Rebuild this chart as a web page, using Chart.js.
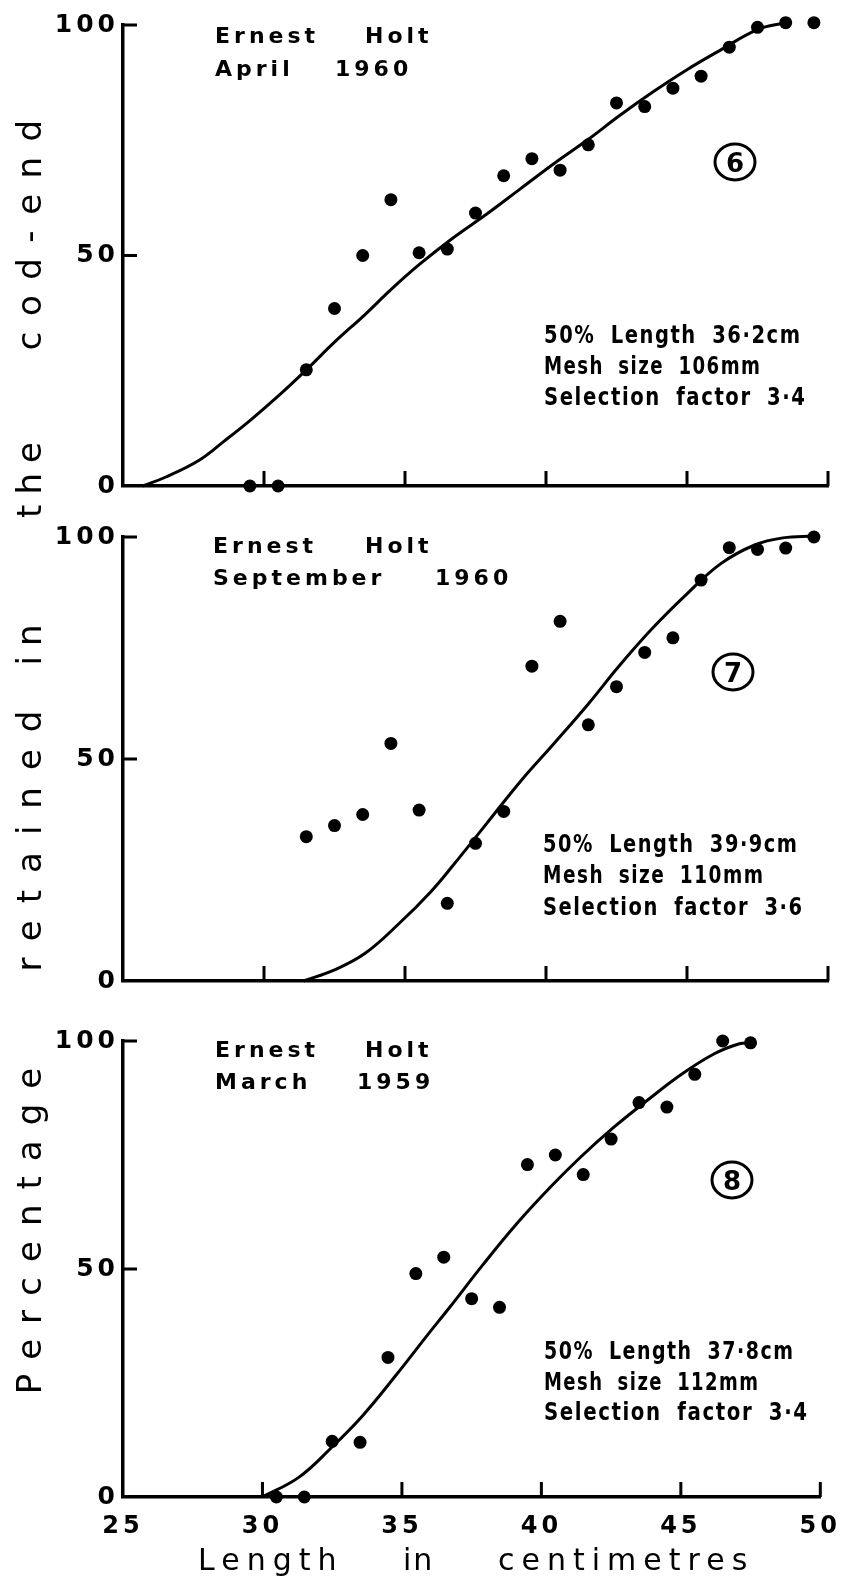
<!DOCTYPE html>
<html>
<head>
<meta charset="utf-8">
<script src="https://cdn.jsdelivr.net/npm/chart.js@4.4.1/dist/chart.umd.min.js"></script>
<style>
  html, body { margin: 0; padding: 0; background: #fff; }
  #page { position: relative; width: 852px; height: 1581px; overflow: hidden; background: #fff; }
  canvas { position: absolute; left: 0; }
  .ytitle {
    position: absolute; width: 400px; height: 34px; line-height: 34px;
    font: 34px "DejaVu Sans", sans-serif; color: #000; text-align: center;
    white-space: nowrap; transform: rotate(-90deg);
  }
</style>
</head>
<body>
<div id="page">
  <canvas id="panel6" width="852" height="505" style="top:0px"></canvas>
  <canvas id="panel7" width="852" height="495" style="top:505px"></canvas>
  <canvas id="panel8" width="852" height="581" style="top:1000px"></canvas>
</div>
<script>
// --- axis ticks ---
const X_TICKS = [25, 30, 35, 40, 45, 50];
const Y_TICKS = [0, 50, 100];

// --- Ernest Holt, April 1960 (panel 6) ---
const LENGTH_6 = [29.5, 30.5, 31.5, 32.5, 33.5, 34.5, 35.5, 36.5, 37.5, 38.5, 39.5,
                  40.5, 41.5, 42.5, 43.5, 44.5, 45.5, 46.5, 47.5, 48.5, 49.5];
const RETAINED_6 = [0, 0, 25.2, 38.5, 50, 62.1, 50.6, 51.4, 59.2, 67.3, 71,
                    68.5, 74, 83.1, 82.3, 86.3, 88.9, 95.2, 99.5, 100.5, 100.5];
const CURVE_X_6 = [25.7, 26.5, 27.7, 28.6, 29.5, 30.5, 31.5, 32.5, 33.6, 34.5, 35.5,
                   36.7, 37.9, 39.1, 40.3, 41.5, 42.6, 43.8, 45.0, 46.2, 47.5, 48.5];
const CURVE_Y_6 = [0, 1.9, 5.6, 9.8, 14.2, 19.5, 25.2, 31.2, 37.3, 42.6, 48,
                   53.8, 59, 64.5, 70, 75.2, 80.3, 85.5, 90.3, 94.6, 99, 100.5];

// --- Ernest Holt, September 1960 (panel 7) ---
const LENGTH_7 = [31.5, 32.5, 33.5, 34.5, 35.5, 36.5, 37.5, 38.5, 39.5, 40.5,
                  41.5, 42.5, 43.5, 44.5, 45.5, 46.5, 47.5, 48.5, 49.5];
const RETAINED_7 = [32.5, 35, 37.5, 53.5, 38.5, 17.5, 31, 38.2, 70.9, 81,
                    57.7, 66.3, 74, 77.3, 90.3, 97.6, 97.2, 97.5, 100];
const CURVE_X_7 = [31.4, 32.5, 33.6, 34.8, 35.9, 36.7, 37.9, 39.1, 40.3,
                   41.5, 42.6, 43.8, 45.0, 46.2, 47.4, 48.4, 49.5];
const CURVE_Y_7 = [0, 2.5, 6.3, 13, 20, 26, 35.5, 45, 53.6,
                   62.4, 71, 79.6, 87.2, 94, 98.2, 99.8, 100.2];

// --- Ernest Holt, March 1959 (panel 8) ---
const LENGTH_8 = [30.5, 31.5, 32.5, 33.5, 34.5, 35.5, 36.5, 37.5, 38.5,
                  39.5, 40.5, 41.5, 42.5, 43.5, 44.5, 45.5, 46.5, 47.5];
const RETAINED_8 = [0, 0, 12.2, 12, 30.6, 49, 52.6, 43.5, 41.6,
                    72.9, 75, 70.7, 78.5, 86.5, 85.5, 92.7, 100, 99.6];
const CURVE_X_8 = [30.0, 31.3, 32.45, 33.6, 34.8, 35.9, 36.7, 37.9, 39.1,
                   40.3, 41.4, 42.6, 43.8, 45.0, 46.2, 47.1, 47.5];
const CURVE_Y_8 = [0, 4.3, 10.7, 17.9, 26.8, 35.4, 41.5, 50.9, 59.8,
                   67.8, 74.5, 81.1, 87, 92.6, 97.2, 99.4, 99.6];

// --- texts ---
const Y_TITLE = ["Percentage", "retained", "in", "the", "cod-end"];
const X_TITLE = ["Length", "in", "centimetres"];

// page positions of the texts (y is baseline, page coordinates)
const PANEL_TEXT = {
  panel6: {
    top: 0,
    words: [["Ernest", 215, 43], ["Holt", 365, 43], ["April", 215, 76], ["1960", 335, 76]],
    number: ["6", 735, 162],
    stats: [["50% Length 36·2cm", 544, 343, 256], ["Mesh size 106mm", 544, 374, 216],
            ["Selection factor 3·4", 544, 405, 261]],
  },
  panel7: {
    top: 505,
    words: [["Ernest", 213, 553], ["Holt", 365, 553], ["September", 213, 585], ["1960", 435, 585]],
    number: ["7", 733, 672],
    stats: [["50% Length 39·9cm", 543, 852, 254], ["Mesh size 110mm", 543, 883, 220],
            ["Selection factor 3·6", 543, 915, 259]],
  },
  panel8: {
    top: 1000,
    words: [["Ernest", 215, 1057], ["Holt", 365, 1057], ["March", 215, 1089], ["1959", 357, 1089]],
    number: ["8", 732, 1180],
    stats: [["50% Length 37·8cm", 544, 1359, 249], ["Mesh size 112mm", 544, 1390, 214],
            ["Selection factor 3·4", 544, 1420, 263]],
  },
};

function putText(ctx, str, x, y, font, spacing, wordSpacing, fitWidth) {
  ctx.save();
  ctx.font = font;
  ctx.fillStyle = "#000";
  ctx.textAlign = "left";
  ctx.textBaseline = "alphabetic";
  if ("letterSpacing" in ctx) ctx.letterSpacing = spacing + "px";
  if ("wordSpacing" in ctx) ctx.wordSpacing = (wordSpacing || 0) + "px";
  ctx.translate(x, y);
  if (fitWidth) {
    const w = ctx.measureText(str).width - spacing;
    ctx.scale(fitWidth / w, 1);
  }
  ctx.fillText(str, 0, 0);
  ctx.restore();
}

const paperMarks = {
  id: "paperMarks",
  beforeDraw(chart) {
    if ("letterSpacing" in chart.ctx) chart.ctx.letterSpacing = "4px";
  },
  afterDatasetsDraw(chart) {
    const { ctx } = chart;
    const x = chart.scales.x, y = chart.scales.y;
    const info = PANEL_TEXT[chart.canvas.id];
    const off = info.top;

    // inward tick marks
    ctx.save();
    ctx.strokeStyle = "#000";
    ctx.lineWidth = 3;
    ctx.beginPath();
    X_TICKS.slice(1).forEach(v => {
      const px = x.getPixelForValue(v);
      ctx.moveTo(px, y.bottom);
      ctx.lineTo(px, y.bottom - 15);
    });
    Y_TICKS.slice(1).forEach(v => {
      const py = y.getPixelForValue(v);
      ctx.moveTo(x.left, py);
      ctx.lineTo(x.left + 14, py);
    });
    ctx.stroke();

    // circled panel number
    const [num, nx, ny] = info.number;
    ctx.lineWidth = 3;
    ctx.beginPath();
    ctx.ellipse(nx, ny - off, 20, 18, 0, 0, Math.PI * 2);
    ctx.stroke();
    ctx.font = "bold 26px 'DejaVu Sans', sans-serif";
    if ("letterSpacing" in ctx) ctx.letterSpacing = "0px";
    ctx.fillStyle = "#000";
    ctx.textAlign = "center";
    ctx.textBaseline = "alphabetic";
    ctx.fillText(num, nx, ny - off + 9.5);
    ctx.restore();

    info.words.forEach(([s, wx, wy]) =>
      putText(ctx, s, wx, wy - off, "bold 22px 'DejaVu Sans', sans-serif", 4));
    info.stats.forEach(([s, sx, sy, sw]) =>
      putText(ctx, s, sx, sy - off, "bold 25px 'DejaVu Sans', sans-serif", 2, 9, sw));

    if (chart.canvas.id === "panel8") {
      const xs = [198, 403, 498];
      const sp = [7, 2, 7];
      X_TITLE.forEach((w, i) =>
        putText(ctx, w, xs[i], 1570 - off, "30px 'DejaVu Sans', sans-serif", sp[i]));
    }
  },
};

function panelChart(id, lengths, retained, curveX, curveY, padTop, xHeight, showX) {
  const points = lengths.map((v, i) => ({ x: v, y: retained[i] }));
  const curve = curveX.map((v, i) => ({ x: v, y: curveY[i] }));
  return new Chart(document.getElementById(id), {
    type: "scatter",
    data: {
      datasets: [
        {
          data: curve,
          showLine: true,
          borderColor: "#000",
          borderWidth: 3,
          pointRadius: 0,
          tension: 0.4,
          clip: false,
        },
        {
          data: points,
          pointRadius: 6.5,
          pointBackgroundColor: "#000",
          pointBorderWidth: 0,
          clip: false,
        },
      ],
    },
    options: {
      responsive: false,
      animation: false,
      devicePixelRatio: 1,
      events: [],
      layout: { padding: { top: padTop, right: 24, left: 0, bottom: 0 } },
      plugins: { legend: { display: false }, tooltip: { enabled: false } },
      scales: {
        x: {
          type: "linear",
          min: 25,
          max: 50,
          afterBuildTicks: s => { s.ticks = X_TICKS.map(v => ({ value: v })); },
          afterFit: s => { s.height = xHeight; },
          grid: { display: false, drawTicks: false },
          border: { display: true, color: "#000", width: 3.5 },
          ticks: {
            display: showX,
            padding: 15,
            color: "#000",
            maxRotation: 0,
            font: { family: "DejaVu Sans", size: 24, weight: "bold" },
          },
        },
        y: {
          type: "linear",
          min: 0,
          max: 100,
          afterBuildTicks: s => { s.ticks = Y_TICKS.map(v => ({ value: v })); },
          afterFit: s => { s.width = 123; },
          grid: { display: false, drawTicks: false },
          border: { display: true, color: "#000", width: 3.5 },
          ticks: {
            padding: 4,
            color: "#000",
            font: { family: "DejaVu Sans", size: 25, weight: "bold" },
          },
        },
      },
    },
    plugins: [paperMarks],
  });
}

panelChart("panel6", LENGTH_6, RETAINED_6, CURVE_X_6, CURVE_Y_6, 25, 505 - 489, false);
panelChart("panel7", LENGTH_7, RETAINED_7, CURVE_X_7, CURVE_Y_7, 537 - 505, 495 - 487, false);
panelChart("panel8", LENGTH_8, RETAINED_8, CURVE_X_8, CURVE_Y_8, 41, 581 - 497, true);

// rotated y-axis title, one word at a time
const page = document.getElementById("page");
const yWords = [
  ["Percentage", 1231, 15],
  ["retained", 841, 17],
  ["in", 645, 10],
  ["the", 480, 10],
  ["cod-end", 235, 15.5],
];
yWords.forEach(([w, cy, ls]) => {
  const d = document.createElement("div");
  d.className = "ytitle";
  d.textContent = w;
  d.style.left = (26 - 200) + "px";
  d.style.top = (cy - 17) + "px";
  d.style.letterSpacing = ls + "px";
  d.style.textIndent = ls + "px";
  page.appendChild(d);
});
</script>
</body>
</html>
